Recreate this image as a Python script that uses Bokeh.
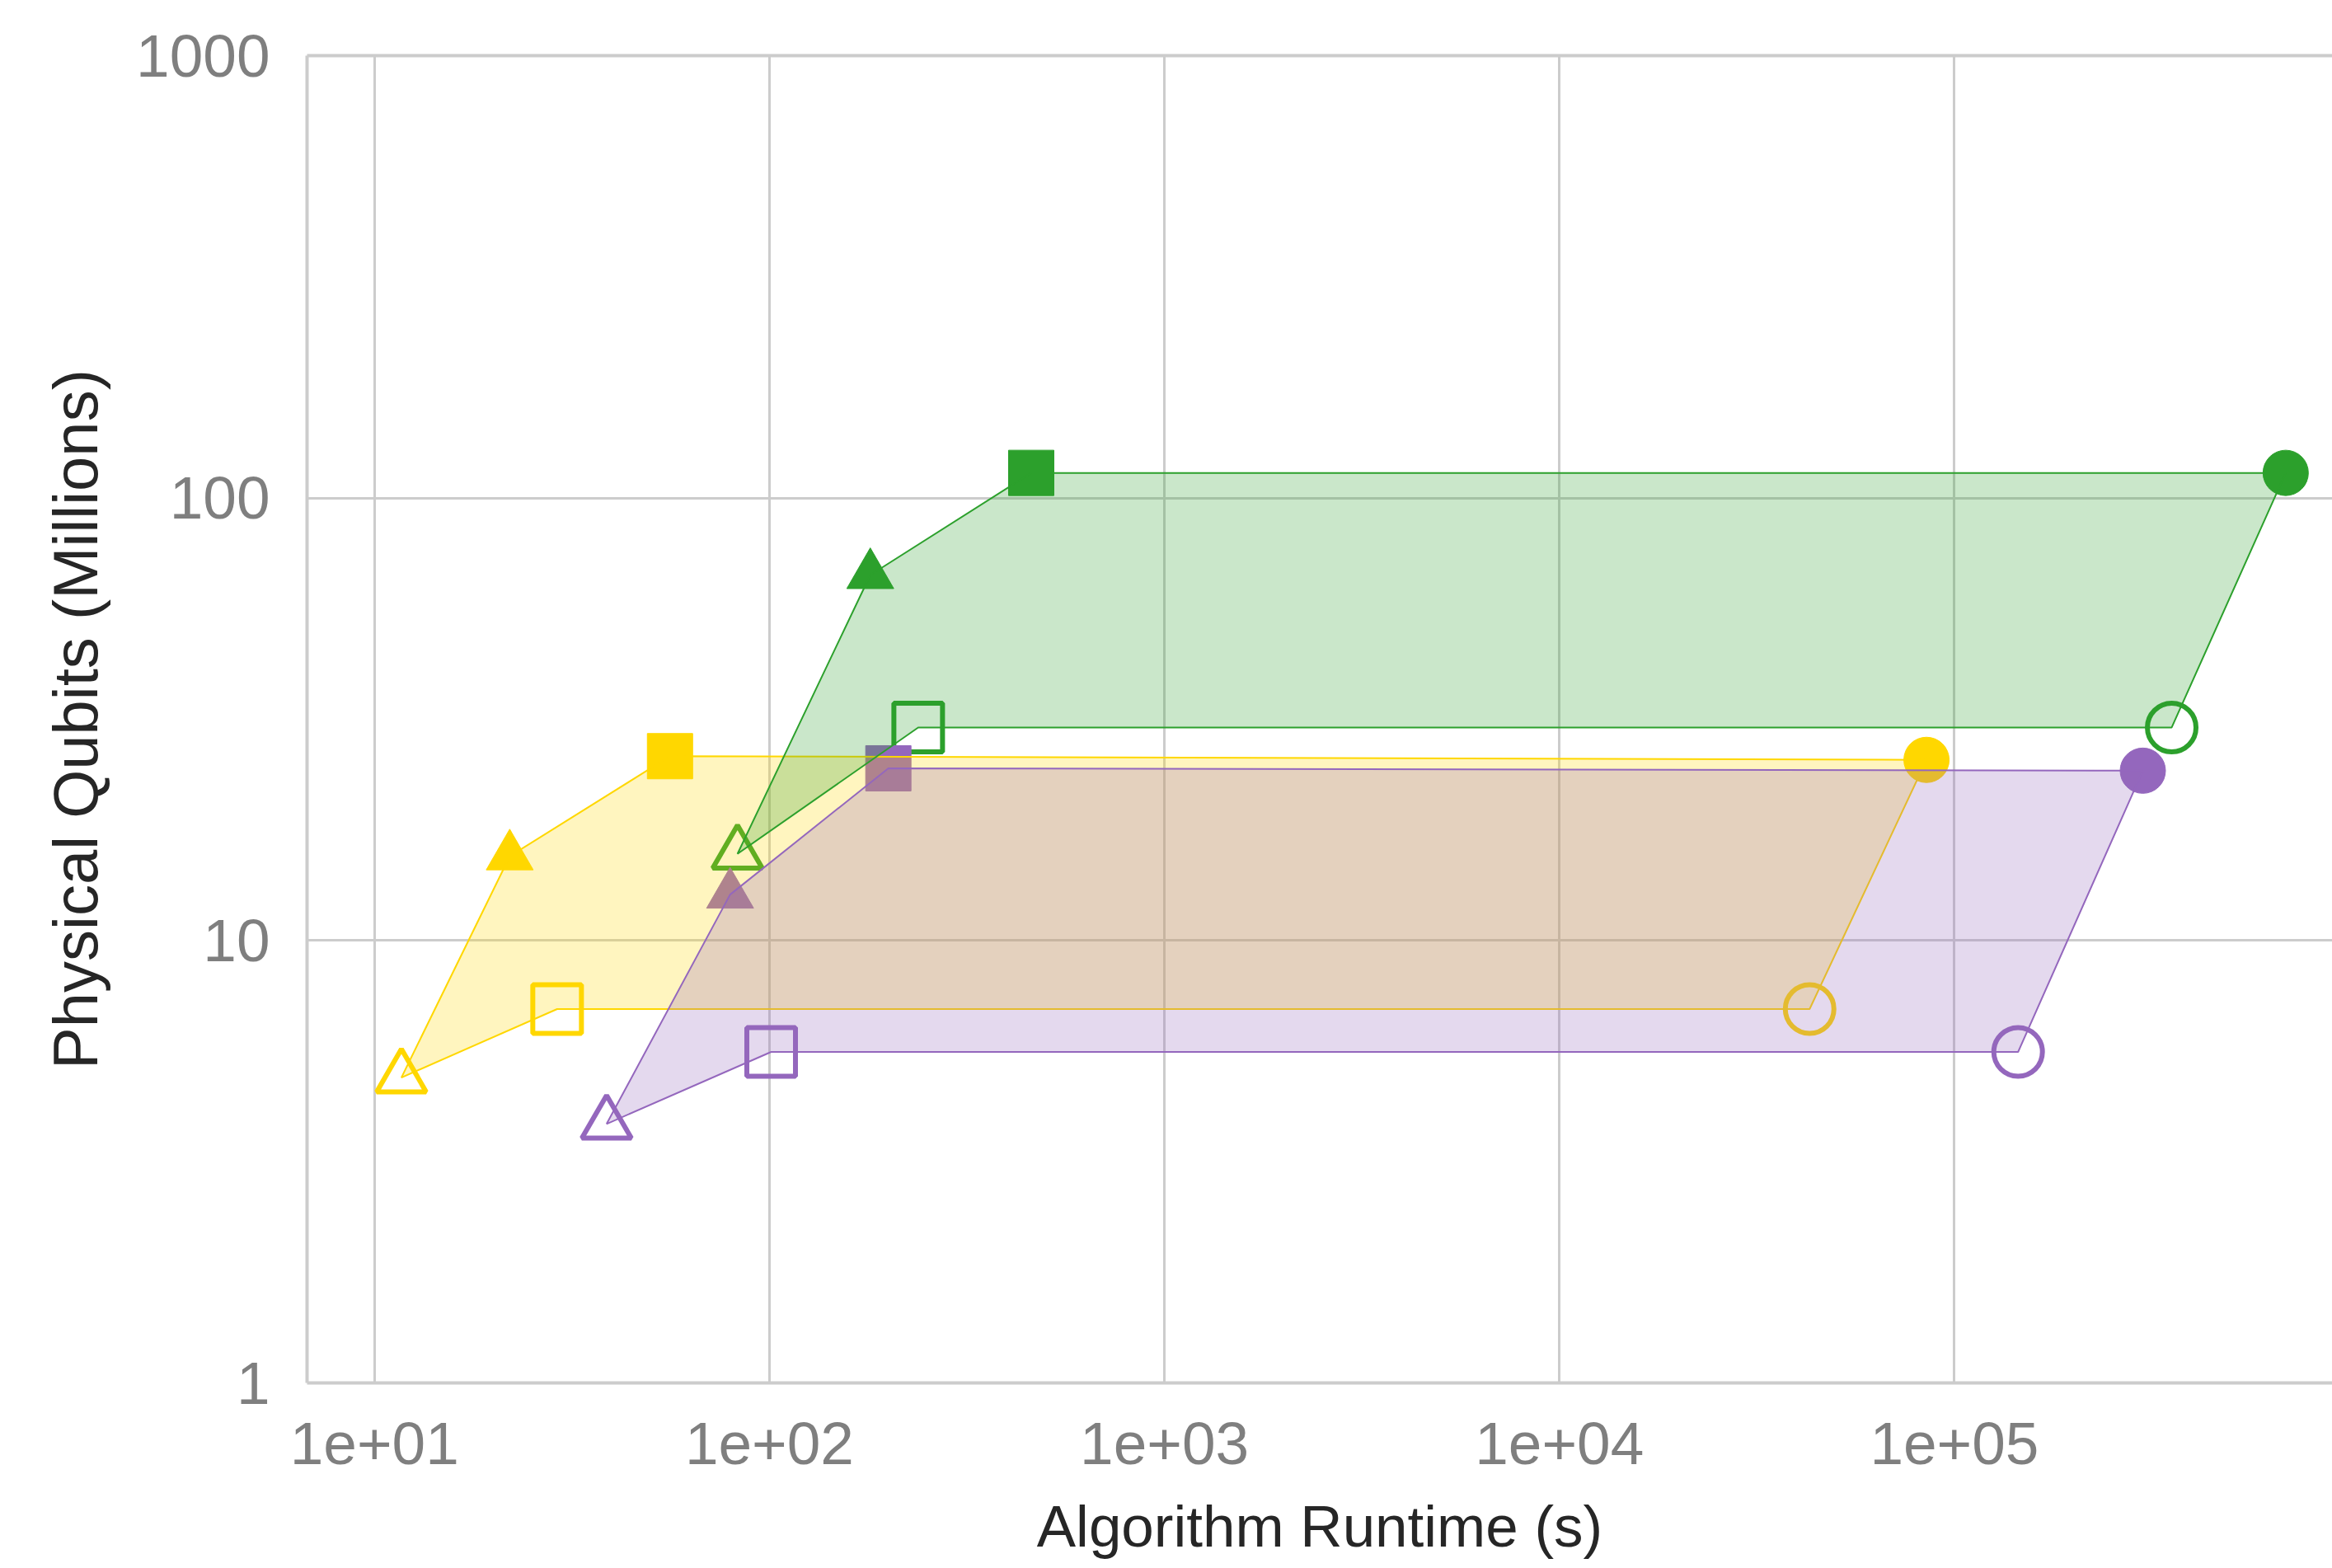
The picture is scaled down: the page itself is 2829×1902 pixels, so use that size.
from bokeh.plotting import figure
from bokeh.models import FixedTicker, LogAxis
from bokeh.embed import file_html
from bokeh.resources import INLINE

# ---- data (points in polygon order) ----
# order: hollow triangle, filled triangle, filled square, filled circle, hollow circle, hollow square
gold_runtime = [11.7, 22, 56, 85000, 43000, 29]
gold_qubits = [4.9, 15.5, 26.1, 25.6, 7.0, 7.0]
green_runtime = [83, 180, 460, 690000, 355000, 238]
green_qubits = [15.7, 67, 114, 114, 30.3, 30.3]
purple_runtime = [38.7, 79.5, 200, 300000, 145000, 101]
purple_qubits = [3.85, 12.7, 24.5, 24.2, 5.6, 5.6]

series_colors = ["#FFD700", "#2CA02C", "#9467BD"]
series_runtime = [gold_runtime, green_runtime, purple_runtime]
series_qubits = [gold_qubits, green_qubits, purple_qubits]

point_markers = ["triangle", "triangle", "square", "circle", "circle", "square"]
point_filled = [False, True, True, True, False, False]

x_ticks = [10, 100, 1000, 10000, 100000]
x_tick_labels = ["1e+01", "1e+02", "1e+03", "1e+04", "1e+05"]
y_ticks = [1, 10, 100, 1000]
y_tick_labels = ["1", "10", "100", "1000"]

x_title = "Algorithm Runtime (s)"
y_title = "Physical Qubits (Millions)"

FONT = "Liberation Sans"
GRID = "#cccccc"

p = figure(width=2829, height=1902, x_axis_type="log", y_axis_type="log",
           x_range=(6.75, 9.06e5), y_range=(1, 1000),
           output_backend="svg", toolbar_location=None,
           min_border_left=372, min_border_right=0, min_border_top=67,
           min_border_bottom=225)
p.outline_line_color = None
p.background_fill_color = "white"
p.border_fill_color = "white"

# markers first
for xs, ys, col in zip(series_runtime, series_qubits, series_colors):
    for i, (mk, filled) in enumerate(zip(point_markers, point_filled)):
        if filled:
            sz = 57 if mk == "triangle" else 55
            p.scatter([xs[i]], [ys[i]], marker=mk, size=sz, fill_color=col,
                      line_color=col, line_width=1)
        else:
            sz = 60 if mk == "triangle" else 59
            p.scatter([xs[i]], [ys[i]], marker=mk, size=sz, fill_color=None,
                      line_color=col, line_width=6)

# shaded regions with outline
for xs, ys, col in zip(series_runtime, series_qubits, series_colors):
    p.patch(xs, ys, fill_color=col, fill_alpha=0.25, line_color=col, line_width=2)

# axes styling
for ax in (p.xaxis[0], p.yaxis[0]):
    ax.axis_line_color = GRID
    ax.axis_line_width = 4
    ax.major_tick_line_color = None
    ax.minor_tick_line_color = None
    ax.major_tick_out = 0
    ax.major_tick_in = 0
    ax.minor_tick_out = 0
    ax.major_label_text_font = FONT
    ax.major_label_text_color = "#7f7f7f"
    ax.major_label_text_font_size = "73px"
    ax.axis_label_text_font = FONT
    ax.axis_label_text_color = "#262626"
    ax.axis_label_text_font_style = "normal"

p.xaxis.ticker = FixedTicker(ticks=x_ticks)
p.xaxis.major_label_overrides = {float(t): l for t, l in zip(x_ticks, x_tick_labels)}
p.xaxis.major_label_standoff = 48
p.xaxis.axis_label = x_title
p.xaxis.axis_label_text_font_size = "71px"
p.xaxis.axis_label_standoff = 33

p.yaxis.ticker = FixedTicker(ticks=y_ticks)
p.yaxis.major_label_overrides = {float(t): l for t, l in zip(y_ticks, y_tick_labels)}
p.yaxis.major_label_standoff = 45
p.yaxis.axis_label = y_title
p.yaxis.axis_label_text_font_size = "76px"
p.yaxis.axis_label_standoff = 28

# top spine
top = LogAxis(ticker=FixedTicker(ticks=[]), axis_line_color=GRID, axis_line_width=4,
              major_tick_line_color=None, minor_tick_line_color=None,
              major_label_text_font_size="0px", major_tick_out=0, minor_tick_out=0,
              major_label_standoff=0)
p.add_layout(top, "above")

p.xgrid.grid_line_color = GRID
p.xgrid.grid_line_width = 3
p.ygrid.grid_line_color = GRID
p.ygrid.grid_line_width = 3

open("out.html", "w").write(file_html(p, INLINE))
